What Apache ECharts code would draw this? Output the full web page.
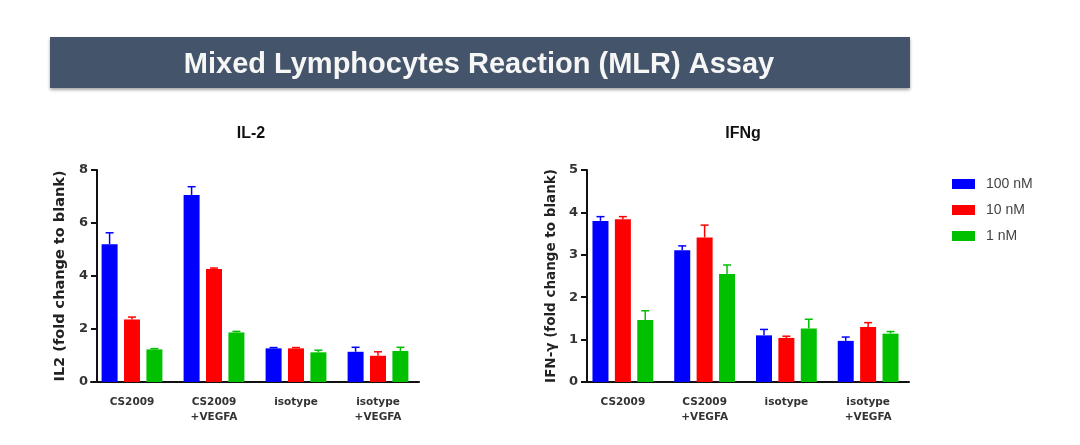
<!DOCTYPE html>
<html><head><meta charset="utf-8">
<script src="https://cdn.jsdelivr.net/npm/echarts@6/dist/echarts.min.js"></script>
<style>html,body{margin:0;padding:0;background:#fff}#c{width:1080px;height:445px}</style>
</head><body><div id="c"></div>
<script>
const categories = ['CS2009', 'CS2009\n+VEGFA', 'isotype', 'isotype\n+VEGFA'];
const seriesNames = ['100 nM', '10 nM', '1 nM'];
const colors = ['#0000ff', '#ff0000', '#00c000'];
// IL-2 means and upper error
const il2_100 = [5.2, 7.06, 1.27, 1.14];
const il2_100_err = [5.63, 7.37, 1.30, 1.31];
const il2_10 = [2.36, 4.26, 1.27, 0.99];
const il2_10_err = [2.45, 4.30, 1.30, 1.14];
const il2_1 = [1.23, 1.87, 1.12, 1.17];
const il2_1_err = [1.26, 1.91, 1.20, 1.31];
// IFNg means and upper error
const ifn_100 = [3.80, 3.11, 1.10, 0.97];
const ifn_100_err = [3.90, 3.21, 1.24, 1.06];
const ifn_10 = [3.84, 3.41, 1.04, 1.30];
const ifn_10_err = [3.90, 3.70, 1.08, 1.40];
const ifn_1 = [1.46, 2.55, 1.26, 1.14];
const ifn_1_err = [1.68, 2.76, 1.48, 1.19];
const il2Ticks = {min: 0, max: 8, interval: 2};
const ifnTicks = {min: 0, max: 5, interval: 1};

const BAR_W = 16, GAP = 0.4;
const FONT_B = 'DejaVu Sans';
const chart = echarts.init(document.getElementById('c'));

function errSeries(name, idx, grid, means, ups) {
  const off = (idx - 1) * BAR_W * (1 + GAP);
  return {
    type: 'custom', name: name, xAxisIndex: grid, yAxisIndex: grid, silent: true,
    data: means.map((m, i) => [i, m, ups[i]]),
    encode: {x: 0, y: [1, 2]},
    z: 1,
    renderItem: function (params, api) {
      const base = api.coord([api.value(0), api.value(1)]);
      const top = api.coord([api.value(0), api.value(2)]);
      const x = base[0] + off;
      const st = {stroke: colors[idx], lineWidth: 1.5};
      return {type: 'group', children: [
        {type: 'line', shape: {x1: x, y1: base[1], x2: x, y2: top[1]}, style: st},
        {type: 'line', shape: {x1: x - 4, y1: top[1], x2: x + 4, y2: top[1]}, style: st}
      ]};
    }
  };
}
function barSeries(name, idx, grid, vals) {
  return {type: 'bar', name: name, xAxisIndex: grid, yAxisIndex: grid, data: vals,
    barWidth: BAR_W, barGap: (GAP * 100) + '%', itemStyle: {color: colors[idx]}, z: 2};
}
function xAx(grid) {
  return {type: 'category', gridIndex: grid, data: categories,
    axisLine: {lineStyle: {color: '#111', width: 2}},
    axisTick: {alignWithLabel: true, length: 6, lineStyle: {color: '#111', width: 2}},
    axisLabel: {margin: 13, lineHeight: 15, interval: 0, fontSize: 10.5, color: '#333', fontWeight: 'bold', fontFamily: FONT_B}};
}
function yAx(grid, t, name, off, nameSize) {
  return Object.assign({type: 'value', gridIndex: grid, name: name, nameLocation: 'middle', nameGap: 29,
    offset: off,
    nameTextStyle: {color: '#222', fontWeight: 'bold', fontSize: nameSize, fontFamily: FONT_B},
    axisLine: {show: true, lineStyle: {color: '#111', width: 2}},
    axisTick: {show: true, length: 6, lineStyle: {color: '#111', width: 2}},
    splitLine: {show: false},
    axisLabel: {margin: 9, fontSize: 13, color: '#333', fontWeight: 'bold', fontFamily: FONT_B}}, t);
}

chart.setOption({
  animation: false,
  graphic: [{type: 'rect', shape: {x: 50, y: 37, width: 860, height: 51}, style: {fill: '#44546a', shadowBlur: 3, shadowColor: 'rgba(0,0,0,0.35)', shadowOffsetY: 2}, z: -1}],
  title: [
    {text: 'Mixed Lymphocytes Reaction (MLR) Assay', left: 479, top: 50, textAlign: 'center', padding: 0,
      textStyle: {color: '#f6f6f6', fontSize: 29, fontWeight: 'bold', fontFamily: 'Liberation Sans'}},
    {text: 'IL-2', left: 251, top: 126, textAlign: 'center', padding: 0,
      textStyle: {color: '#111', fontSize: 16, fontWeight: 'bold', fontFamily: 'Liberation Sans'}},
    {text: 'IFNg', left: 743, top: 126, textAlign: 'center', padding: 0,
      textStyle: {color: '#111', fontSize: 16, fontWeight: 'bold', fontFamily: 'Liberation Sans'}}
  ],
  legend: {data: seriesNames, orient: 'vertical', left: 947, top: 172, itemWidth: 23, itemHeight: 10, itemGap: 12,
    icon: 'rect', textStyle: {color: '#444', fontSize: 14, fontFamily: 'Liberation Sans', padding: [0, 0, 0, 6]}},
  grid: [
    {left: 91, width: 328, top: 170, bottom: 63},
    {left: 582, width: 327, top: 170, bottom: 63}
  ],
  xAxis: [xAx(0), xAx(1)],
  yAxis: [yAx(0, il2Ticks, 'IL2 (fold change to blank)', -6, 14.5), yAx(1, ifnTicks, 'IFN-γ (fold change to blank)', -5, 13.5)],
  series: [
    barSeries(seriesNames[0], 0, 0, il2_100), barSeries(seriesNames[1], 1, 0, il2_10), barSeries(seriesNames[2], 2, 0, il2_1),
    barSeries(seriesNames[0], 0, 1, ifn_100), barSeries(seriesNames[1], 1, 1, ifn_10), barSeries(seriesNames[2], 2, 1, ifn_1),
    errSeries(seriesNames[0], 0, 0, il2_100, il2_100_err), errSeries(seriesNames[1], 1, 0, il2_10, il2_10_err), errSeries(seriesNames[2], 2, 0, il2_1, il2_1_err),
    errSeries(seriesNames[0], 0, 1, ifn_100, ifn_100_err), errSeries(seriesNames[1], 1, 1, ifn_10, ifn_10_err), errSeries(seriesNames[2], 2, 1, ifn_1, ifn_1_err)
  ]
});
</script></body></html>
